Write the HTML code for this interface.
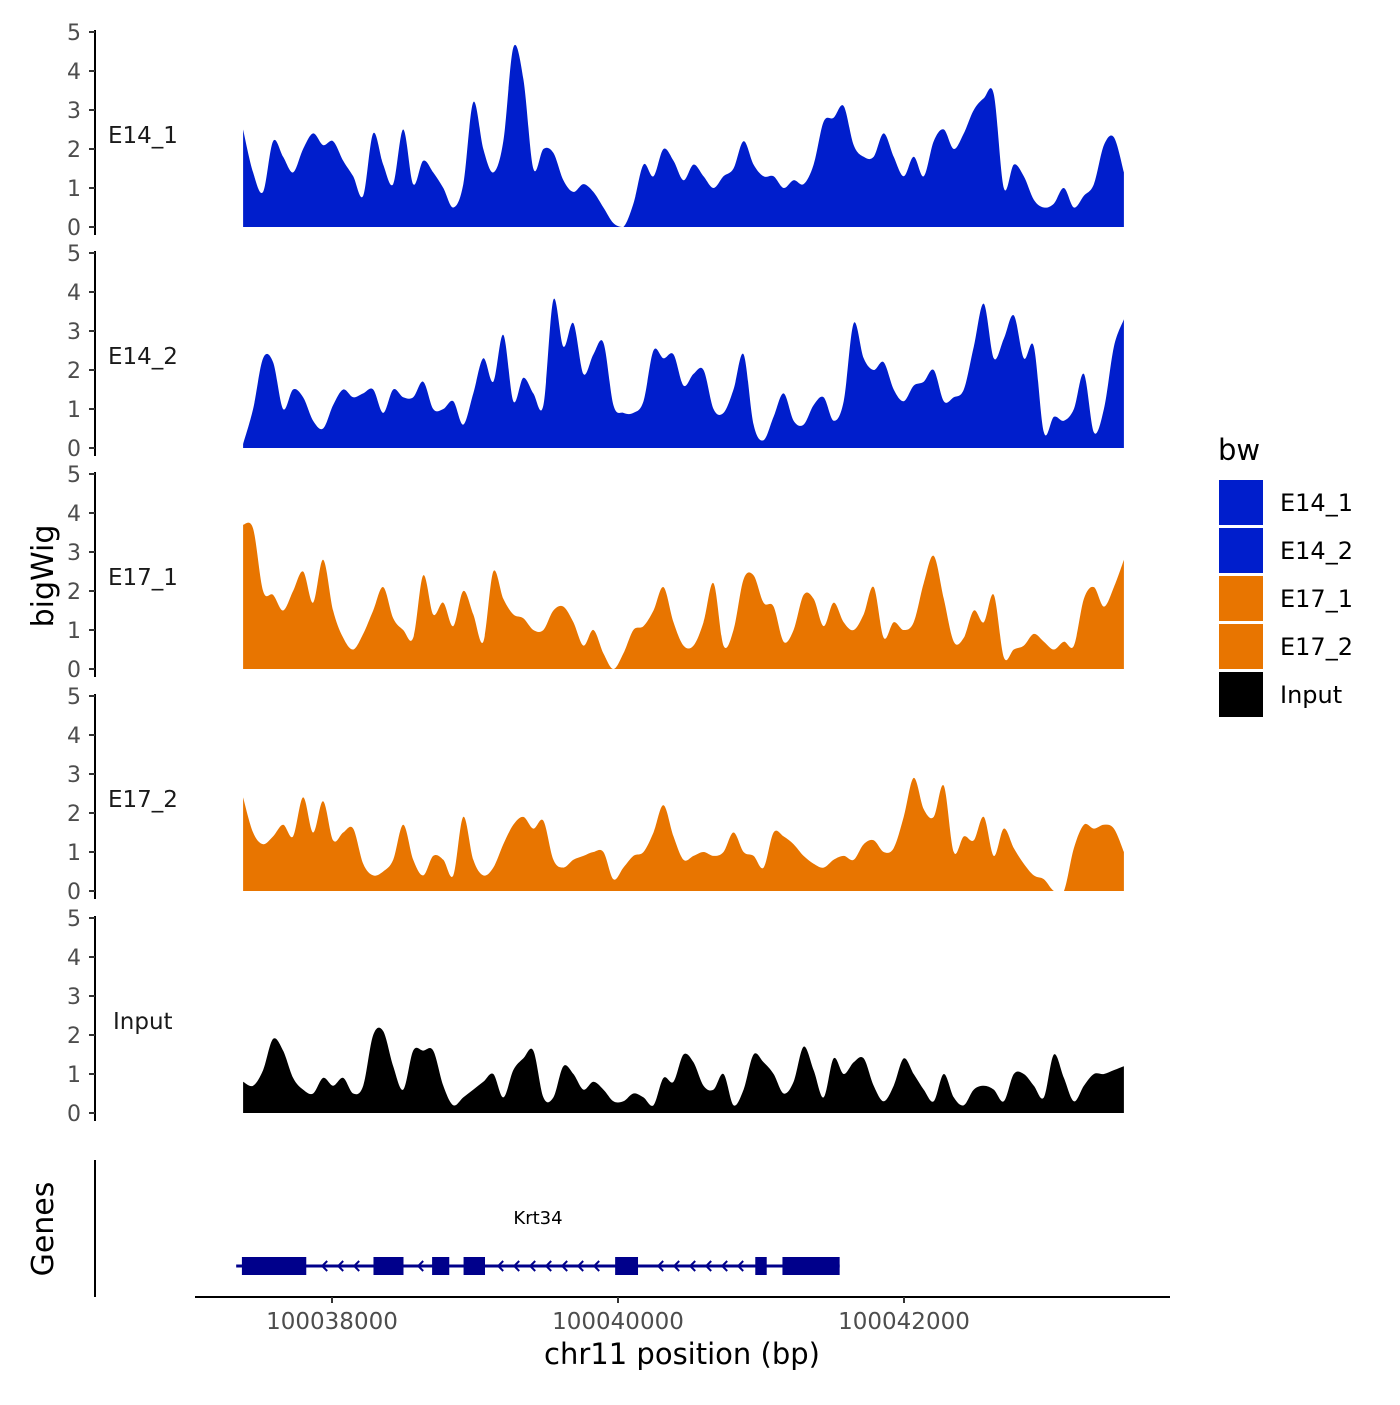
<!DOCTYPE html>
<html><head><meta charset="utf-8"><style>
body{margin:0;background:#fff;}
svg text{font-family:"DejaVu Sans","Liberation Sans",sans-serif;}
</style></head><body>
<svg id="chart" width="1400" height="1400" viewBox="0 0 1400 1400" xmlns="http://www.w3.org/2000/svg">
<rect width="1400" height="1400" fill="#fff"/>
<g id="tracks"></g>
<g id="genes"></g>
<text x="0" y="0" transform="translate(53,576) rotate(-90)" text-anchor="middle" font-size="30" fill="#000">bigWig</text>
<text x="0" y="0" transform="translate(53,1229) rotate(-90)" text-anchor="middle" font-size="30" fill="#000">Genes</text>
<line x1="95" y1="1160" x2="95" y2="1297" stroke="#000" stroke-width="2"/>
<line x1="195" y1="1297" x2="1170" y2="1297" stroke="#000" stroke-width="2"/>
<g id="xticks"></g>
<text x="682" y="1364" text-anchor="middle" font-size="29" fill="#000">chr11 position (bp)</text>
<g id="legend">
<text x="1218" y="460" font-size="29" fill="#000">bw</text>
</g>
</svg>
<script>
const trackNames = ["E14_1","E14_2","E17_1","E17_2","Input"];
const trackColors = ["#001ECC","#001ECC","#E87500","#E87500","#000000"];
const yTicks = [0,1,2,3,4,5];
const xTickValues = [100038000,100040000,100042000];
const xTickLabels = ["100038000","100040000","100042000"];
const startBp = 100037378, stepBp = 70;
const e14_1 = [2.5,1.4,0.9,2.2,1.8,1.4,2.0,2.4,2.1,2.2,1.7,1.3,0.8,2.4,1.6,1.1,2.5,1.1,1.7,1.4,1.0,0.5,1.1,3.2,2.0,1.4,2.2,4.6,3.8,1.5,2.0,1.9,1.2,0.9,1.1,0.9,0.5,0.1,0.0,0.6,1.6,1.3,2.0,1.7,1.2,1.6,1.3,1.0,1.3,1.5,2.2,1.6,1.3,1.3,1.0,1.2,1.1,1.6,2.7,2.8,3.1,2.1,1.8,1.8,2.4,1.8,1.3,1.8,1.3,2.2,2.5,2.0,2.4,3.0,3.3,3.4,1.0,1.6,1.3,0.7,0.5,0.6,1.0,0.5,0.8,1.1,2.1,2.3,1.4];
const e14_2 = [0.1,1.0,2.3,2.2,1.0,1.5,1.3,0.7,0.5,1.1,1.5,1.3,1.4,1.5,0.9,1.5,1.3,1.3,1.7,1.0,1.0,1.2,0.6,1.4,2.3,1.7,2.9,1.2,1.8,1.4,1.1,3.8,2.6,3.2,1.9,2.4,2.7,1.1,0.9,0.9,1.2,2.5,2.3,2.4,1.6,1.9,2.0,1.0,0.9,1.5,2.4,0.6,0.2,0.8,1.4,0.7,0.6,1.1,1.3,0.7,1.2,3.2,2.3,2.0,2.2,1.5,1.2,1.6,1.7,2.0,1.2,1.3,1.5,2.6,3.7,2.3,2.8,3.4,2.3,2.6,0.4,0.8,0.7,1.0,1.9,0.4,1.0,2.6,3.3];
const e17_1 = [3.7,3.6,2.0,1.9,1.5,2.0,2.5,1.7,2.8,1.5,0.8,0.5,0.9,1.5,2.1,1.3,1.0,0.8,2.4,1.4,1.7,1.1,2.0,1.4,0.7,2.5,1.8,1.4,1.3,1.0,1.0,1.5,1.6,1.2,0.6,1.0,0.4,0.0,0.4,1.0,1.1,1.5,2.1,1.2,0.6,0.6,1.2,2.2,0.6,1.0,2.3,2.4,1.7,1.6,0.7,1.0,1.9,1.8,1.1,1.7,1.2,1.0,1.4,2.1,0.8,1.2,1.0,1.2,2.2,2.9,1.8,0.7,0.8,1.5,1.2,1.9,0.3,0.5,0.6,0.9,0.7,0.5,0.7,0.6,1.8,2.1,1.6,2.1,2.8];
const e17_2 = [2.4,1.5,1.2,1.4,1.7,1.4,2.4,1.5,2.3,1.3,1.5,1.6,0.7,0.4,0.5,0.8,1.7,0.8,0.4,0.9,0.8,0.4,1.9,0.8,0.4,0.6,1.2,1.7,1.9,1.6,1.8,0.8,0.6,0.8,0.9,1.0,1.0,0.3,0.6,0.9,1.0,1.5,2.2,1.4,0.8,0.9,1.0,0.9,1.0,1.5,1.0,0.9,0.6,1.5,1.4,1.2,0.9,0.7,0.6,0.8,0.9,0.8,1.2,1.3,1.0,1.1,1.9,2.9,2.1,1.9,2.7,1.0,1.4,1.3,1.9,0.9,1.6,1.1,0.7,0.4,0.3,0.0,0.0,1.1,1.7,1.6,1.7,1.6,1.0];
const input = [0.8,0.7,1.1,1.9,1.6,0.9,0.6,0.5,0.9,0.7,0.9,0.5,0.7,2.0,2.1,1.2,0.6,1.6,1.6,1.6,0.7,0.2,0.4,0.6,0.8,1.0,0.4,1.1,1.4,1.6,0.4,0.4,1.2,1.0,0.6,0.8,0.6,0.3,0.3,0.5,0.4,0.2,0.9,0.8,1.5,1.3,0.7,0.6,1.0,0.2,0.6,1.5,1.3,1.0,0.5,0.8,1.7,1.1,0.4,1.4,1.0,1.3,1.4,0.7,0.3,0.7,1.4,1.0,0.6,0.3,1.0,0.4,0.2,0.6,0.7,0.6,0.3,1.0,1.0,0.7,0.4,1.5,0.9,0.3,0.7,1.0,1.0,1.1,1.2];
const exonStarts = [100037370,100038290,100038700,100038920,100039980,100040960,100041150];
const exonEnds   = [100037820,100038500,100038820,100039070,100040140,100041040,100041550];
const geneStart = 100037330, geneEnd = 100041550, geneName = "Krt34";

const NS = "http://www.w3.org/2000/svg";
function mk(tag, attrs, parent){const e=document.createElementNS(NS,tag);for(const k in attrs)e.setAttribute(k,attrs[k]);parent.appendChild(e);return e;}
function xScale(bp){return 332 + (bp-100038000)*0.143;}
const panelZero = [227,448,669,891,1113];
function yScale(p,v){return panelZero[p] - v*39;}
const series = [e14_1,e14_2,e17_1,e17_2,input];
const tracks = document.getElementById('tracks');
series.forEach((vals,p)=>{
  const g = mk('g',{},tracks);
  
  
  const pts = vals.map((v,i)=>[xScale(startBp+i*stepBp), yScale(p,v)]);
  const base = yScale(p,0);
  let d = 'M'+pts[0][0].toFixed(1)+','+base+' L'+pts[0][0].toFixed(1)+','+pts[0][1].toFixed(1);
  for(let i=0;i<pts.length-1;i++){
    const p0=pts[Math.max(0,i-1)], p1=pts[i], p2=pts[i+1], p3=pts[Math.min(pts.length-1,i+2)];
    const t=0.5/3;
    let c1x=p1[0]+(p2[0]-p0[0])*t, c1y=Math.min(base,p1[1]+(p2[1]-p0[1])*t);
    let c2x=p2[0]-(p3[0]-p1[0])*t, c2y=Math.min(base,p2[1]-(p3[1]-p1[1])*t);
    d+=` C${c1x.toFixed(1)},${c1y.toFixed(1)} ${c2x.toFixed(1)},${c2y.toFixed(1)} ${p2[0].toFixed(1)},${p2[1].toFixed(1)}`;
  }
  d += ' L'+pts[pts.length-1][0].toFixed(1)+','+base+' Z';
  const area = mk('path',{d:d,fill:trackColors[p]},g);
  
  
  const ax = mk('line',{x1:95,y1:yScale(p,5)-2,x2:95,y2:yScale(p,0)+8,stroke:'#000','stroke-width':2},g);
  
  
  yTicks.forEach(t=>{
    const y=yScale(p,t);
    mk('line',{x1:89,y1:y,x2:95,y2:y,stroke:'#333','stroke-width':2},g);
    const tl = mk('text',{x:81,y:y+8,'text-anchor':'end','font-size':22,fill:'#4d4d4d'},g);
    tl.textContent = t;
    
    
  });
  const lab = mk('text',{x:trackNames[p]==='Input'?113:108,y:panelZero[p]-84,'font-size':23,fill:'#1a1a1a'},g);
  lab.textContent = trackNames[p];
  
  
});
// genes
const gg = document.getElementById('genes');
const gy = 1266;
mk('line',{x1:xScale(geneStart),y1:gy,x2:xScale(geneEnd),y2:gy,stroke:'#00008B','stroke-width':3},gg);
for(let x=xScale(geneStart)+70;x<xScale(geneEnd)-50;x+=16){
  const inExon = exonStarts.some((s,i)=>x>xScale(s)-8&&x<xScale(exonEnds[i])+8);
  if(inExon) continue;
  const c = mk('path',{d:`M${x+5},${gy-5} L${x},${gy} L${x+5},${gy+5}`,fill:'none',stroke:'#00008B','stroke-width':2},gg);
  
  
}
exonStarts.forEach((s,i)=>{
  const r = mk('rect',{x:xScale(s),y:gy-9,width:xScale(exonEnds[i])-xScale(s),height:18,fill:'#00008B'},gg);
  
  
});
const gl = mk('text',{x:538,y:1224,'text-anchor':'middle','font-size':18,fill:'#000'},gg);
gl.textContent = geneName;


// x ticks
const xt = document.getElementById('xticks');
xTickValues.forEach((v,i)=>{
  const x = xScale(v);
  mk('line',{x1:x,y1:1297,x2:x,y2:1303,stroke:'#333','stroke-width':2},xt);
  const t = mk('text',{x:x,y:1329,'text-anchor':'middle','font-size':23,fill:'#4d4d4d'},xt);
  t.textContent = xTickLabels[i];
  
  
});
// legend
const lg = document.getElementById('legend');
trackNames.forEach((n,i)=>{
  const y = 480 + i*48;
  const k = mk('rect',{x:1219,y:y,width:44,height:45,fill:trackColors[i]},lg);
  
  
  const t = mk('text',{x:1280,y:y+31,'font-size':24,fill:'#000'},lg);
  t.textContent = n;
  
  
});
</script>
</body></html>
